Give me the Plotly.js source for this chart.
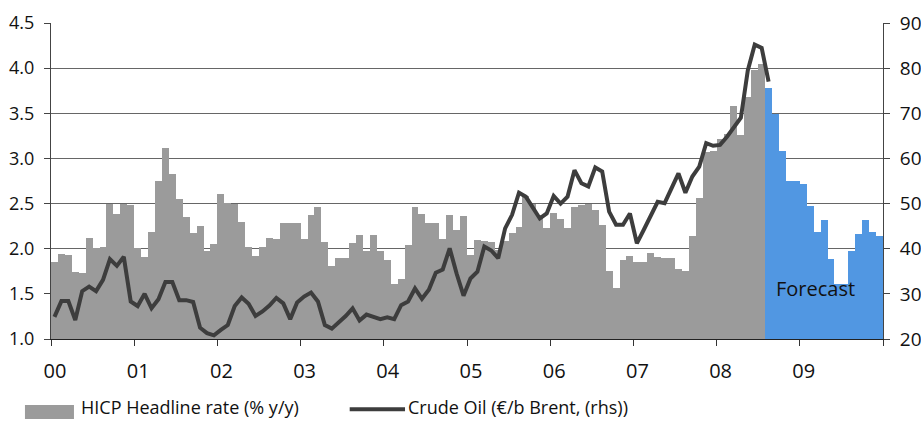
<!DOCTYPE html>
<html>
<head>
<meta charset="utf-8">
<script src="https://cdn.plot.ly/plotly-3.0.1.min.js"></script>
<style>html,body{margin:0;padding:0;background:#fff}#chart{width:921px;height:422px}</style>
</head>
<body>
<div id="chart"></div>
<script>
// Tick labels for years (Jan of each year)
const yearLabels = ['00','01','02','03','04','05','06','07','08','09'];

// HICP headline rate (% y/y), monthly Jan 2000 - Jul 2008 (actual)
const hicpActual = [
  1.85, 1.94, 1.93, 1.74, 1.73, 2.12, 2.01, 2.02, 2.49, 2.39, 2.49, 2.48,
  2.01, 1.91, 2.18, 2.75, 3.12, 2.83, 2.55, 2.35, 2.17, 2.25, 1.97, 2.05,
  2.61, 2.51, 2.49, 2.30, 2.02, 1.92, 2.02, 2.12, 2.11, 2.29, 2.29, 2.28,
  2.11, 2.37, 2.46, 2.07, 1.81, 1.90, 1.90, 2.06, 2.15, 1.97, 2.15, 1.97,
  1.88, 1.61, 1.67, 2.04, 2.46, 2.38, 2.29, 2.29, 2.11, 2.37, 2.21, 2.36,
  1.93, 2.10, 2.09, 2.07, 1.99, 2.08, 2.17, 2.24, 2.58, 2.49, 2.37, 2.23,
  2.40, 2.33, 2.23, 2.46, 2.48, 2.49, 2.43, 2.26, 1.75, 1.57, 1.87, 1.92,
  1.85, 1.85, 1.95, 1.91, 1.90, 1.90, 1.78, 1.75, 2.14, 2.56, 3.07, 3.08,
  3.21, 3.27, 3.58, 3.26, 3.68, 3.98, 4.05
];
// HICP forecast, Aug 2008 - Dec 2009
const hicpForecast = [
  3.78, 3.49, 3.08, 2.75, 2.75,
  2.72, 2.47, 2.19, 2.32, 1.89, 1.61, 1.61, 1.98, 2.16, 2.32, 2.18, 2.14
];
// Crude oil (EUR/b Brent), monthly Jan 2000 - Aug 2008
const oil = [
  24.9, 28.4, 28.4, 24.2, 30.6, 31.6, 30.6, 33.1, 37.7, 36.2, 38.2, 28.3,
  27.3, 30.0, 26.8, 28.8, 32.6, 32.6, 28.6, 28.6, 28.2, 22.5, 21.3, 20.8,
  22.0, 23.1, 27.3, 29.2, 27.8, 25.1, 26.1, 27.4, 29.1, 27.9, 24.4, 28.1,
  29.4, 30.3, 28.3, 23.1, 22.3, 23.6, 25.1, 26.8, 24.1, 25.4, 24.8, 24.4,
  24.8, 24.4, 27.5, 28.3, 31.2, 28.9, 30.9, 34.7, 35.4, 40.1, 34.5, 29.6,
  33.4, 34.9, 40.5, 39.6, 37.9, 44.5, 47.5, 52.4, 51.5, 49.0, 46.7, 47.8,
  51.7, 50.0, 51.5, 57.4, 54.5, 53.8, 58.0, 57.1, 48.2, 45.3, 45.3, 47.8,
  41.2, 44.2, 47.1, 50.4, 50.1, 53.4, 56.7, 52.4, 56.0, 58.2, 63.4, 62.8,
  63.0, 64.8, 67.0, 69.0, 79.5, 85.2, 84.5, 77.0
];

const nMonths = hicpActual.length + hicpForecast.length;
const xActual = hicpActual.map((_, i) => i);
const xForecast = hicpForecast.map((_, i) => i + hicpActual.length);
const xOil = oil.map((_, i) => i);
const tickVals = yearLabels.map((_, i) => i * 12 - 0.5).concat([nMonths - 0.5]);
const tickText = yearLabels.concat(['']);

const FONT = 'Open Sans, Liberation Sans, sans-serif';

const traces = [
  {type: 'bar', x: xActual, y: hicpActual, width: 1, name: 'HICP Headline rate (% y/y)',
   marker: {color: '#9b9b9b', line: {width: 0}}, hoverinfo: 'skip'},
  {type: 'bar', x: xForecast, y: hicpForecast, width: 1, name: 'Forecast',
   marker: {color: '#5197e2', line: {width: 0}}, hoverinfo: 'skip'},
  {type: 'scatter', mode: 'lines', x: xOil, y: oil, yaxis: 'y2', name: 'Crude Oil (€/b Brent, (rhs))',
   line: {color: '#3d3d3d', width: 4}, hoverinfo: 'skip'}
];

const layout = {
  width: 921, height: 422,
  margin: {l: 51, r: 38, t: 23, b: 83, pad: 0},
  paper_bgcolor: '#ffffff', plot_bgcolor: '#ffffff',
  font: {family: FONT, color: '#111111', size: 18},
  showlegend: false,
  barmode: 'overlay', bargap: 0,
  xaxis: {
    range: [-0.5, nMonths - 0.5], tickmode: 'array', tickvals: tickVals, ticktext: tickText,
    ticks: 'outside', ticklen: 6, tickcolor: '#333', tickwidth: 1,
    showline: true, linecolor: '#222', linewidth: 1.3,
    showgrid: false, zeroline: false,
    ticklabelshift: 4, ticklabelstandoff: 8,
    tickfont: {size: 20, family: FONT, color: '#111'}
  },
  yaxis: {
    range: [1.0, 4.5], tick0: 1, dtick: 0.5, tickformat: '.1f',
    showgrid: true, gridcolor: '#666666', gridwidth: 1, zeroline: false,
    showline: true, linecolor: '#444', linewidth: 1,
    ticks: 'outside', ticklen: 6, tickcolor: '#444',
    ticklabelstandoff: 6,
    tickfont: {size: 18, family: FONT, color: '#111'}
  },
  yaxis2: {
    overlaying: 'y', side: 'right', range: [20, 90], tick0: 20, dtick: 10,
    showgrid: false, zeroline: false,
    showline: true, linecolor: '#444', linewidth: 1,
    ticks: 'outside', ticklen: 6, tickcolor: '#444',
    ticklabelstandoff: 6,
    tickfont: {size: 19, family: FONT, color: '#111'}
  },
  annotations: [
    {xref: 'x', yref: 'y', x: 109.8, y: 1.56, text: 'Forecast', showarrow: false,
     font: {size: 20, family: FONT, color: '#111'}, xanchor: 'center', yanchor: 'middle'},
    {xref: 'paper', yref: 'paper', x: 0.0349, y: -0.216, text: 'HICP Headline rate (% y/y)', showarrow: false,
     font: {size: 18, family: FONT, color: '#111'}, xanchor: 'left', yanchor: 'middle', borderpad: 0},
    {xref: 'paper', yref: 'paper', x: 0.4275, y: -0.216, text: 'Crude Oil (€/b Brent, (rhs))', showarrow: false,
     font: {size: 18, family: FONT, color: '#111'}, xanchor: 'left', yanchor: 'middle', borderpad: 0}
  ],
  shapes: [
    {type: 'rect', xref: 'paper', yref: 'paper', x0: -0.0313, x1: 0.0276, y0: -0.209, y1: -0.253,
     fillcolor: '#9b9b9b', line: {width: 0}},
    {type: 'line', xref: 'paper', yref: 'paper', x0: 0.359, x1: 0.4255, y0: -0.222, y1: -0.222,
     line: {color: '#3d3d3d', width: 4}}
  ]
};

Plotly.newPlot('chart', traces, layout, {displayModeBar: false, staticPlot: true});
</script>
</body>
</html>
